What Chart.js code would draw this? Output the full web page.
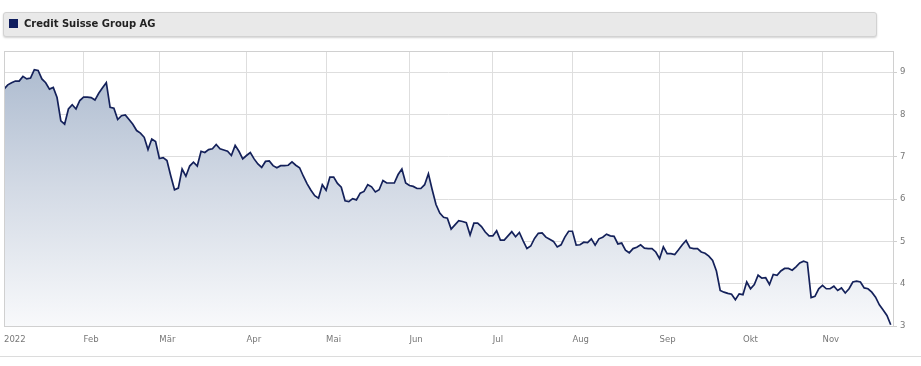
<!DOCTYPE html>
<html>
<head>
<meta charset="utf-8">
<title>Credit Suisse Group AG</title>
<script src="https://cdn.jsdelivr.net/npm/chart.js@4/dist/chart.umd.min.js"></script>
<style>
  body { margin: 0; background: #fff; font-family: "DejaVu Sans", Verdana, sans-serif; }
  #wrap { position: relative; width: 921px; height: 366px; }
  #legend {
    position: absolute; left: 3px; top: 12px; width: 872px; height: 23px;
    background: #e9e9e9; border: 1px solid #d2d2d2; border-radius: 3px;
    box-shadow: 0 1px 2px rgba(0,0,0,0.18);
  }
  #legend .box { position: absolute; left: 5px; top: 6px; width: 9px; height: 9px; background: #0f1d5e; }
  #legend .txt { position: absolute; left: 20px; top: 5px; font-size: 10px; font-weight: bold; color: #222; line-height: 12px; }
  #bottomline { position: absolute; left: 0; top: 356px; width: 921px; height: 1px; background: #dcdcdc; }
  canvas { position: absolute; left: 0; top: 0; }
</style>
</head>
<body>
<div id="wrap">
  <canvas id="chart" width="921" height="366"></canvas>
  <div id="legend"><span class="box"></span><span class="txt">Credit Suisse Group AG</span></div>
  <div id="bottomline"></div>
</div>
<script>
// Schlusskurse pro Handelstag (Index 0 = 3. Jan 2022)
const prices = [
  8.60, 8.70, 8.75, 8.79, 8.79, 8.90, 8.84, 8.86, 9.06, 9.04,
  8.84, 8.75, 8.60, 8.64, 8.40, 7.85, 7.77, 8.13, 8.23, 8.13,
  8.33, 8.41, 8.41, 8.40, 8.34, 8.50, 8.63, 8.75, 8.17, 8.15,
  7.88, 7.97, 7.99, 7.88, 7.77, 7.62, 7.56, 7.46, 7.17, 7.42,
  7.36, 6.96, 6.98, 6.91, 6.55, 6.22, 6.26, 6.71, 6.54, 6.78,
  6.87, 6.78, 7.13, 7.10, 7.17, 7.19, 7.29, 7.19, 7.16, 7.13,
  7.03, 7.27, 7.13, 6.95, 7.03, 7.10, 6.95, 6.83, 6.75, 6.89,
  6.90, 6.79, 6.74, 6.79, 6.79, 6.80, 6.88, 6.80, 6.74, 6.54,
  6.36, 6.21, 6.08, 6.02, 6.34, 6.21, 6.52, 6.52, 6.37, 6.28,
  5.96, 5.94, 6.01, 5.98, 6.14, 6.18, 6.34, 6.29, 6.17, 6.22,
  6.44, 6.38, 6.38, 6.38, 6.58, 6.71, 6.38, 6.32, 6.30, 6.25,
  6.25, 6.34, 6.60, 6.22, 5.87, 5.67, 5.57, 5.55, 5.29, 5.39,
  5.49, 5.47, 5.44, 5.15, 5.43, 5.43, 5.35, 5.22, 5.13, 5.13,
  5.25, 5.03, 5.03, 5.13, 5.23, 5.11, 5.21, 5.01, 4.83, 4.89,
  5.07, 5.19, 5.20, 5.10, 5.05, 5.00, 4.87, 4.92, 5.10, 5.24,
  5.24, 4.91, 4.92, 4.98, 4.97, 5.06, 4.91, 5.06, 5.10, 5.17,
  5.13, 5.12, 4.94, 4.96, 4.79, 4.73, 4.83, 4.86, 4.92, 4.84,
  4.83, 4.83, 4.75, 4.59, 4.87, 4.71, 4.71, 4.69, 4.80, 4.92,
  5.02, 4.85, 4.83, 4.83, 4.75, 4.72, 4.65, 4.55, 4.30, 3.84,
  3.80, 3.77, 3.75, 3.62, 3.76, 3.74, 4.04, 3.88, 3.98, 4.20,
  4.13, 4.14, 3.98, 4.22, 4.20, 4.30, 4.36, 4.36, 4.32, 4.40,
  4.49, 4.53, 4.50, 3.67, 3.70, 3.88, 3.96, 3.88, 3.88, 3.94,
  3.84, 3.90, 3.78, 3.88, 4.04, 4.06, 4.04, 3.90, 3.88, 3.80,
  3.68, 3.50, 3.38, 3.25, 3.03
];

// Monatsanfang als Handelstag-Index
const monthStarts = [0, 21, 41, 64, 85, 107, 129, 150, 173, 195, 216];
const monthLabels = ['2022', 'Feb', 'Mär', 'Apr', 'Mai', 'Jun', 'Jul', 'Aug', 'Sep', 'Okt', 'Nov'];
const yTicks = [3, 4, 5, 6, 7, 8, 9];

// Rahmen um die Zeichenfläche
const frame = {
  id: 'frame',
  afterDraw(chart) {
    const a = chart.chartArea;
    const ctx = chart.ctx;
    ctx.save();
    ctx.strokeStyle = '#d0d0d0';
    ctx.lineWidth = 1;
    ctx.strokeRect(Math.round(a.left) + 0.5, Math.round(a.top) + 0.5, Math.round(a.right - a.left), Math.round(a.bottom - a.top));
    ctx.restore();
  }
};

function fillGradient(context) {
  const area = context.chart.chartArea;
  if (!area) return 'rgba(180,195,215,0.6)';
  const g = context.chart.ctx.createLinearGradient(0, area.top, 0, area.bottom);
  g.addColorStop(0, '#a9b8cd');
  g.addColorStop(0.5, '#d3dae5');
  g.addColorStop(1, '#f8f9fb');
  return g;
}

const ctx = document.getElementById('chart').getContext('2d');

new Chart(ctx, {
  type: 'line',
  data: {
    datasets: [{
      label: 'Credit Suisse Group AG',
      data: prices.map((p, i) => ({ x: i, y: p })),
      borderColor: '#14215a',
      borderWidth: 1.7,
      backgroundColor: fillGradient,
      fill: 'start',
      pointRadius: 0,
      tension: 0
    }]
  },
  options: {
    responsive: false,
    animation: false,
    layout: { padding: { left: 4, top: 51, right: 0, bottom: 0 } },
    plugins: { legend: { display: false }, tooltip: { enabled: false } },
    scales: {
      x: {
        type: 'linear',
        min: 0,
        max: 234.6,
        afterBuildTicks: s => { s.ticks = monthStarts.map(v => ({ value: v })); },
        afterFit: s => { s.height = 40; s.paddingLeft = 0; s.paddingRight = 0; },
        grid: { color: '#dedede', drawTicks: false },
        border: { display: false },
        ticks: {
          autoSkip: false,
          maxRotation: 0,
          align: 'start',
          padding: 9,
          color: '#777',
          font: { family: 'DejaVu Sans', size: 8.5 },
          callback: (v, i) => monthLabels[i]
        }
      },
      y: {
        position: 'right',
        min: 3,
        max: 9.5,
        afterBuildTicks: s => { s.ticks = yTicks.map(v => ({ value: v })); },
        afterFit: s => { s.width = 28; s.paddingTop = 0; s.paddingBottom = 0; },
        grid: { color: '#dedede', tickLength: 4, tickColor: '#cfcfcf' },
        border: { display: false },
        ticks: {
          padding: 3,
          color: '#777',
          font: { family: 'DejaVu Sans', size: 8.5 }
        }
      }
    }
  },
  plugins: [frame]
});
</script>
</body>
</html>
